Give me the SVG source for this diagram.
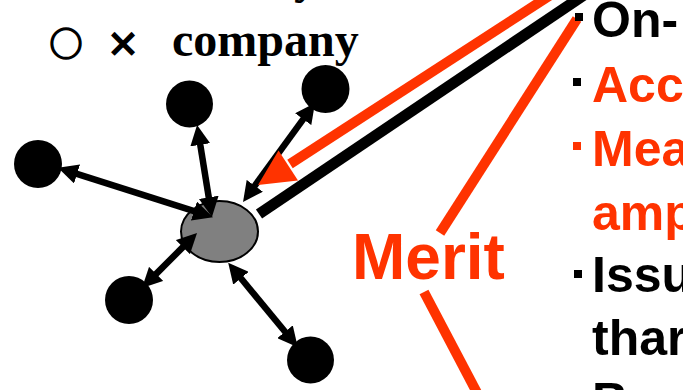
<svg xmlns="http://www.w3.org/2000/svg" width="683" height="390" viewBox="0 0 683 390">
  <style>
    .serif { font-family: "Liberation Serif", "Times New Roman", serif; font-weight: bold; font-size: 48px; fill: #000; }
    .sans { font-family: "Liberation Sans", Arial, sans-serif; font-weight: bold; font-size: 50px; }
    .sym { font-family: "Noto Sans CJK JP", "DejaVu Sans", sans-serif; font-weight: bold; font-size: 33px; fill: #000; stroke: #000; stroke-width: 1.6; }
    .blk { fill: #000; }
    .red { fill: #FF3300; }
    .node { fill: #000; }
    .hub { fill: #808080; stroke: #000; stroke-width: 2; }
    .link { stroke: #000; stroke-width: 6.5; fill: none; marker-start: url(#ah); marker-end: url(#ah); }
    .feed { stroke: #000; stroke-width: 11; fill: none; }
    .redline { stroke: #FF3300; stroke-width: 10; fill: none; }
  </style>
  <defs>
    <marker id="ah" viewBox="0 0 20 20" markerWidth="20" markerHeight="20" markerUnits="userSpaceOnUse" refX="1" refY="10" orient="auto-start-reverse">
      <path d="M0,0 L20,10 L0,20 z" fill="#000"/>
    </marker>
  </defs>

  <rect width="683" height="390" fill="#fff"/>

  <!-- heading -->
  <text class="serif" x="294" y="-7">y</text>
  <text class="sym" x="66" y="42" text-anchor="middle" dominant-baseline="central">○</text>
  <text class="sym" x="123" y="42" text-anchor="middle" dominant-baseline="central">×</text>
  <text class="serif" x="172" y="56">company</text>

  <!-- central company node -->
  <g id="hub">
    <ellipse class="hub" cx="219.5" cy="231.5" rx="38.5" ry="30.5"/>
  </g>

  <!-- partner nodes -->
  <g id="node-top"><circle class="node" cx="189.5" cy="104" r="23.5"/></g>
  <g id="node-top-right"><circle class="node" cx="325.5" cy="89" r="24"/></g>
  <g id="node-left"><circle class="node" cx="38" cy="164" r="24"/></g>
  <g id="node-bottom-left"><circle class="node" cx="129" cy="300" r="24"/></g>
  <g id="node-bottom-right"><circle class="node" cx="310.5" cy="360" r="23.5"/></g>

  <!-- connectors -->
  <g id="connectors">
    <line class="link" x1="200.1" y1="143.8" x2="208.9" y2="198.3"/>
    <line class="link" x1="76.1" y1="173.6" x2="194.9" y2="211.4"/>
    <line class="link" x1="183.6" y1="246.4" x2="155.4" y2="274.6"/>
    <line class="link" x1="240.3" y1="277.5" x2="285.7" y2="332.5"/>
    <line class="link" x1="303.8" y1="118.4" x2="254.2" y2="186.6"/>
    <line class="feed" x1="259" y1="214" x2="590" y2="-9"/>
    <line class="redline" x1="600" y1="-37" x2="290" y2="164"/>
    <polygon class="red" points="258,185 298,180.5 278.5,150.5"/>
    <line class="redline" x1="577" y1="19" x2="440" y2="233"/>
    <line class="redline" x1="424" y1="292" x2="484" y2="406"/>
  </g>

  <!-- callout label -->
  <text class="sans red" x="352" y="279" style="font-size:64px">Merit</text>

  <!-- bullet list -->
  <g id="list">
    <rect class="blk" x="575" y="13" width="8" height="8"/>
    <text class="sans blk" x="592" y="37">On-</text>
    <rect class="blk" x="573" y="78" width="8" height="8"/>
    <text class="sans red" x="592" y="102">Acc</text>
    <rect class="red" x="573" y="142" width="8" height="8"/>
    <text class="sans red" x="592" y="166">Mea</text>
    <text class="sans red" x="592" y="230">amp</text>
    <rect class="blk" x="574" y="270" width="8" height="8"/>
    <text class="sans blk" x="592" y="292">Issu</text>
    <text class="sans blk" x="592" y="355">thar</text>
    <text class="sans blk" x="592" y="418">B</text>
  </g>
</svg>
